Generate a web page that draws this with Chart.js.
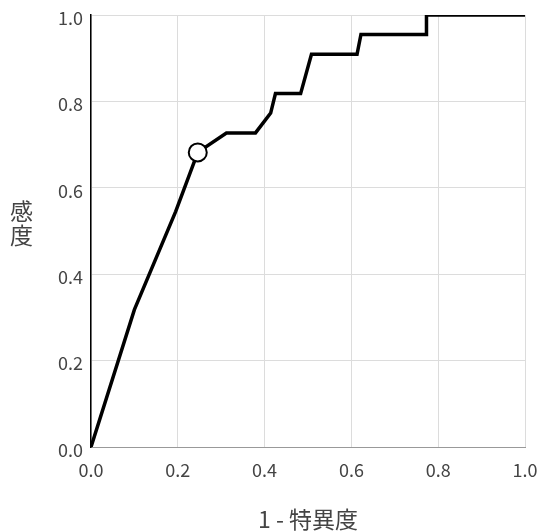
<!DOCTYPE html>
<html>
<head>
<meta charset="utf-8">
<script src="https://cdn.jsdelivr.net/npm/chart.js@4"></script>
<style>
  html, body { margin: 0; padding: 0; background: #fff; }
  #wrap { width: 540px; height: 532px; }
</style>
</head>
<body>
<div id="wrap"><canvas id="rocChart" width="540" height="532"></canvas></div>
<script>
// ROC curve
const fpr = [0, 0.100, 0.195, 0.246, 0.312, 0.379, 0.414, 0.425, 0.483, 0.508, 0.613, 0.622, 0.773, 0.773, 1.0];
const tpr = [0, 0.318, 0.545, 0.682, 0.727, 0.727, 0.773, 0.818, 0.818, 0.909, 0.909, 0.955, 0.955, 1.0, 1.0];
// cut-off point marked with a circle
const cutX = [0.246];
const cutY = [0.682];
const tickVals = [0, 0.2, 0.4, 0.6, 0.8, 1.0];
const xTitle = '1 - 特異度';
const yTitle = ['感', '度'];

const FONT = '"Noto Sans CJK JP", "Noto Sans", sans-serif';
const txtColor = '#444';

const rocPoints = fpr.map((x, i) => ({x: x, y: tpr[i]}));
const cutPoints = cutX.map((x, i) => ({x: x, y: cutY[i]}));

// stacked vertical y title
const yTitlePlugin = {
  id: 'yTitle',
  afterDraw(chart) {
    const c = chart.ctx;
    c.save();
    c.font = '23px ' + FONT;
    c.fillStyle = txtColor;
    c.textAlign = 'center';
    c.textBaseline = 'middle';
    yTitle.forEach((ch, i) => c.fillText(ch, 21.5, 211 + i * 24.5));
    c.restore();
  }
};

const config = {
  type: 'scatter',
  data: {
    datasets: [
      {
        data: cutPoints,
        showLine: false,
        pointRadius: 9,
        pointBorderWidth: 2,
        pointBackgroundColor: '#fff',
        pointBorderColor: '#000',
        order: 0
      },
      {
        data: rocPoints,
        showLine: true,
        borderColor: '#000',
        borderWidth: 3.5,
        tension: 0,
        pointRadius: 0,
        order: 1
      }
    ]
  },
  options: {
    responsive: false,
    animation: false,
    layout: { padding: 0 },
    plugins: { legend: { display: false }, tooltip: { enabled: false } },
    scales: {
      x: {
        type: 'linear', min: 0, max: 1,
        afterBuildTicks: s => { s.ticks = tickVals.map(v => ({value: v})); },
        afterFit: s => { s.height = 85; s.paddingRight = 15; s.paddingLeft = 0; },
        grid: { color: '#dcdcdc', drawTicks: false },
        border: { color: '#999', width: 1 },
        ticks: {
          padding: 12, color: txtColor,
          font: { family: FONT, size: 18 },
          callback: v => v.toFixed(1)
        },
        title: {
          display: true, text: xTitle, color: txtColor,
          font: { family: FONT, size: 23, lineHeight: 1 },
          padding: { top: 0, bottom: 1 }
        }
      },
      y: {
        type: 'linear', min: 0, max: 1,
        afterBuildTicks: s => { s.ticks = tickVals.map(v => ({value: v})); },
        afterFit: s => { s.width = 91; s.paddingTop = 15; s.paddingBottom = 0; },
        grid: { color: '#dcdcdc', drawTicks: false },
        border: { color: '#000', width: 1.5 },
        ticks: {
          padding: 8, labelOffset: 3, color: txtColor,
          font: { family: FONT, size: 18 },
          callback: v => v.toFixed(1)
        }
      }
    }
  },
  plugins: [yTitlePlugin]
};

document.addEventListener('DOMContentLoaded', () => {
  const ctx = document.getElementById('rocChart').getContext('2d');
  new Chart(ctx, config);
});
</script>
</body>
</html>
